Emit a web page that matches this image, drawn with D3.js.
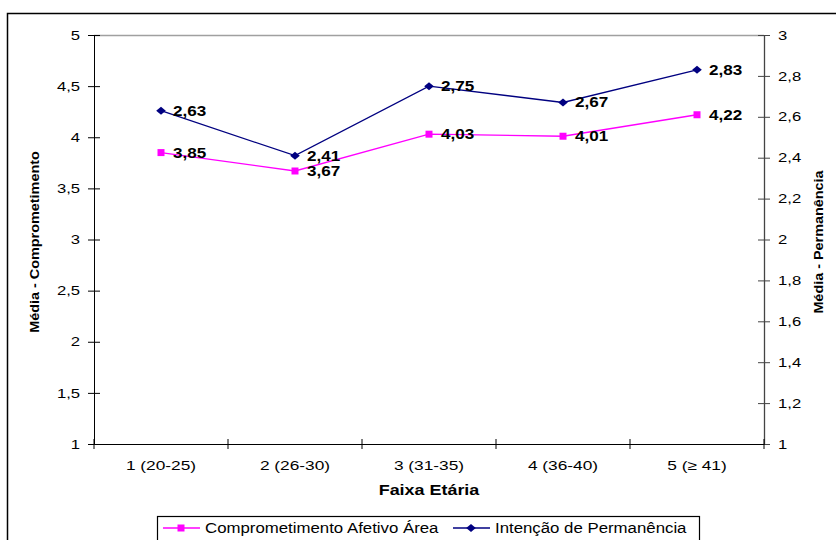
<!DOCTYPE html>
<html>
<head>
<meta charset="utf-8">
<script src="https://cdn.jsdelivr.net/npm/d3@7"></script>
<style>
  html, body { margin: 0; padding: 0; background: #fff; }
  svg { display: block; }
  text { font-family: Arial, "Liberation Sans", sans-serif; fill: #000; }
</style>
</head>
<body>
<svg id="chart" width="836" height="540"></svg>
<script>
// Age groups and the two mean scores per group
const categories = ["1 (20-25)", "2 (26-30)", "3 (31-35)", "4 (36-40)", "5 (\u2265 41)"];
const comprometimento = [3.85, 3.67, 4.03, 4.01, 4.22];
const permanencia = [2.63, 2.41, 2.75, 2.67, 2.83];
const leftTicks = [1, 1.5, 2, 2.5, 3, 3.5, 4, 4.5, 5];
const rightTicks = [1, 1.2, 1.4, 1.6, 1.8, 2, 2.2, 2.4, 2.6, 2.8, 3];
const seriesNames = ["Comprometimento Afetivo \u00c1rea", "Inten\u00e7\u00e3o de Perman\u00eancia"];

const svg = d3.select("#chart");
const M = { left: 94, right: 764, top: 35, bottom: 444 };
const WIDEN = 1.28;
const fmt = v => String(v).replace(".", ",");

// Stretch text horizontally (wide screen rendering of Arial)
function widen(sel, k) {
  sel.each(function () {
    const len = this.getComputedTextLength();
    d3.select(this).attr("textLength", len * k).attr("lengthAdjust", "spacingAndGlyphs");
  });
}

const x = d3.scaleBand().domain(categories).range([M.left, M.right]);
const yL = d3.scaleLinear().domain([1, 5]).range([M.bottom, M.top]);
const yR = d3.scaleLinear().domain([1, 3]).range([M.bottom, M.top]);

// Outer frame
svg.append("rect").attr("x", 7.5).attr("y", 13.5).attr("width", 900).attr("height", 600)
  .attr("fill", "none").attr("stroke", "#000").attr("stroke-width", 1.5);

// Top border of plot area
svg.append("line").attr("x1", M.left).attr("x2", M.right).attr("y1", M.top + 0.5).attr("y2", M.top + 0.5)
  .attr("stroke", "#a0a0a0").attr("stroke-width", 1.3);

// Left axis
const gL = svg.append("g").attr("transform", `translate(${M.left},0)`)
  .call(d3.axisLeft(yL).tickValues(leftTicks).tickFormat(fmt).tickSizeInner(6).tickSizeOuter(0).tickPadding(8));
gL.selectAll(".tick line").attr("x2", 6).attr("x1", -6);
gL.select(".domain").attr("stroke", "#000");
gL.selectAll(".tick text").attr("font-size", 13).attr("x", -14).call(widen, WIDEN);

// Right axis
const gR = svg.append("g").attr("transform", `translate(${M.right},0)`)
  .call(d3.axisRight(yR).tickValues(rightTicks).tickFormat(fmt).tickSizeInner(6).tickSizeOuter(0));
gR.selectAll(".tick line").attr("x1", -6).attr("x2", 6).attr("stroke", "#444");
gR.select(".domain").attr("stroke", "#444").attr("stroke-width", 1.3);
gR.selectAll(".tick text").attr("font-size", 13).attr("x", 14).call(widen, WIDEN);

// Bottom axis with ticks between categories
const gB = svg.append("g").attr("transform", `translate(0,${M.bottom})`)
  .call(d3.axisBottom(x).tickSize(0).tickPadding(16));
gB.select(".domain").attr("stroke", "#000");
gB.selectAll(".tick text").attr("font-size", 13.5).call(widen, WIDEN);
const bounds = categories.map(c => x(c)).concat([M.right]);
gB.selectAll(".sep").data(bounds).join("line").attr("class", "sep")
  .attr("x1", d => d).attr("x2", d => d).attr("y1", -5).attr("y2", 5).attr("stroke", "#000");

// Axis titles
svg.append("text").attr("transform", `translate(39,242) rotate(-90)`)
  .attr("text-anchor", "middle").attr("font-size", 12).attr("font-weight", "bold")
  .text("M\u00e9dia - Comprometimento").call(widen, 1.2);
svg.append("text").attr("transform", `translate(823,242) rotate(-90)`)
  .attr("text-anchor", "middle").attr("font-size", 12).attr("font-weight", "bold")
  .text("M\u00e9dia - Perman\u00eancia").call(widen, 1.2);
svg.append("text").attr("x", (M.left + M.right) / 2).attr("y", 495)
  .attr("text-anchor", "middle").attr("font-size", 14).attr("font-weight", "bold")
  .text("Faixa Et\u00e1ria").call(widen, WIDEN);

const cx = c => x(c) + x.bandwidth() / 2;

// Series lines
const magenta = "#ff00ff", navy = "#000080";
svg.append("path").datum(comprometimento)
  .attr("d", d3.line().x((d, i) => cx(categories[i])).y(d => yL(d)))
  .attr("fill", "none").attr("stroke", magenta).attr("stroke-width", 1.3);
svg.append("path").datum(permanencia)
  .attr("d", d3.line().x((d, i) => cx(categories[i])).y(d => yR(d)))
  .attr("fill", "none").attr("stroke", navy).attr("stroke-width", 1.3);

// Markers: square and a flat diamond
const sq = d3.symbol().type(d3.symbolSquare).size(49);
const flatDiamond = {
  draw(ctx) {
    ctx.moveTo(0, -4); ctx.lineTo(4.8, 0); ctx.lineTo(0, 4); ctx.lineTo(-4.8, 0); ctx.closePath();
  }
};
const dm = d3.symbol().type(flatDiamond);
svg.selectAll(".m1").data(comprometimento).join("path").attr("class", "m1")
  .attr("d", sq).attr("fill", magenta)
  .attr("transform", (d, i) => `translate(${cx(categories[i])},${yL(d)})`);
svg.selectAll(".m2").data(permanencia).join("path").attr("class", "m2")
  .attr("d", dm).attr("fill", navy)
  .attr("transform", (d, i) => `translate(${cx(categories[i])},${yR(d)})`);

// Value labels
svg.selectAll(".l1").data(comprometimento).join("text").attr("class", "l1")
  .attr("x", (d, i) => cx(categories[i]) + 12).attr("y", d => yL(d) + 5)
  .attr("font-size", 14).attr("font-weight", "bold").text(fmt).call(widen, 1.22);
svg.selectAll(".l2").data(permanencia).join("text").attr("class", "l2")
  .attr("x", (d, i) => cx(categories[i]) + 12).attr("y", d => yR(d) + 5)
  .attr("font-size", 14).attr("font-weight", "bold").text(fmt).call(widen, 1.22);

// Legend
const lg = svg.append("g");
lg.append("rect").attr("x", 157.5).attr("y", 516.5).attr("width", 542).attr("height", 40)
  .attr("fill", "#fff").attr("stroke", "#000").attr("stroke-width", 1.2);
const entries = [
  { name: seriesNames[0], color: magenta, sym: sq, x0: 163, tx: 205 },
  { name: seriesNames[1], color: navy, sym: dm, x0: 453, tx: 495 }
];
entries.forEach(e => {
  lg.append("line").attr("x1", e.x0).attr("x2", e.x0 + 37).attr("y1", 528).attr("y2", 528)
    .attr("stroke", e.color).attr("stroke-width", 1.3);
  lg.append("path").attr("d", e.sym).attr("fill", e.color)
    .attr("transform", `translate(${e.x0 + 18},528)`);
  lg.append("text").attr("x", e.tx).attr("y", 533).attr("font-size", 14).text(e.name).call(widen, 1.2);
});
</script>
</body>
</html>
